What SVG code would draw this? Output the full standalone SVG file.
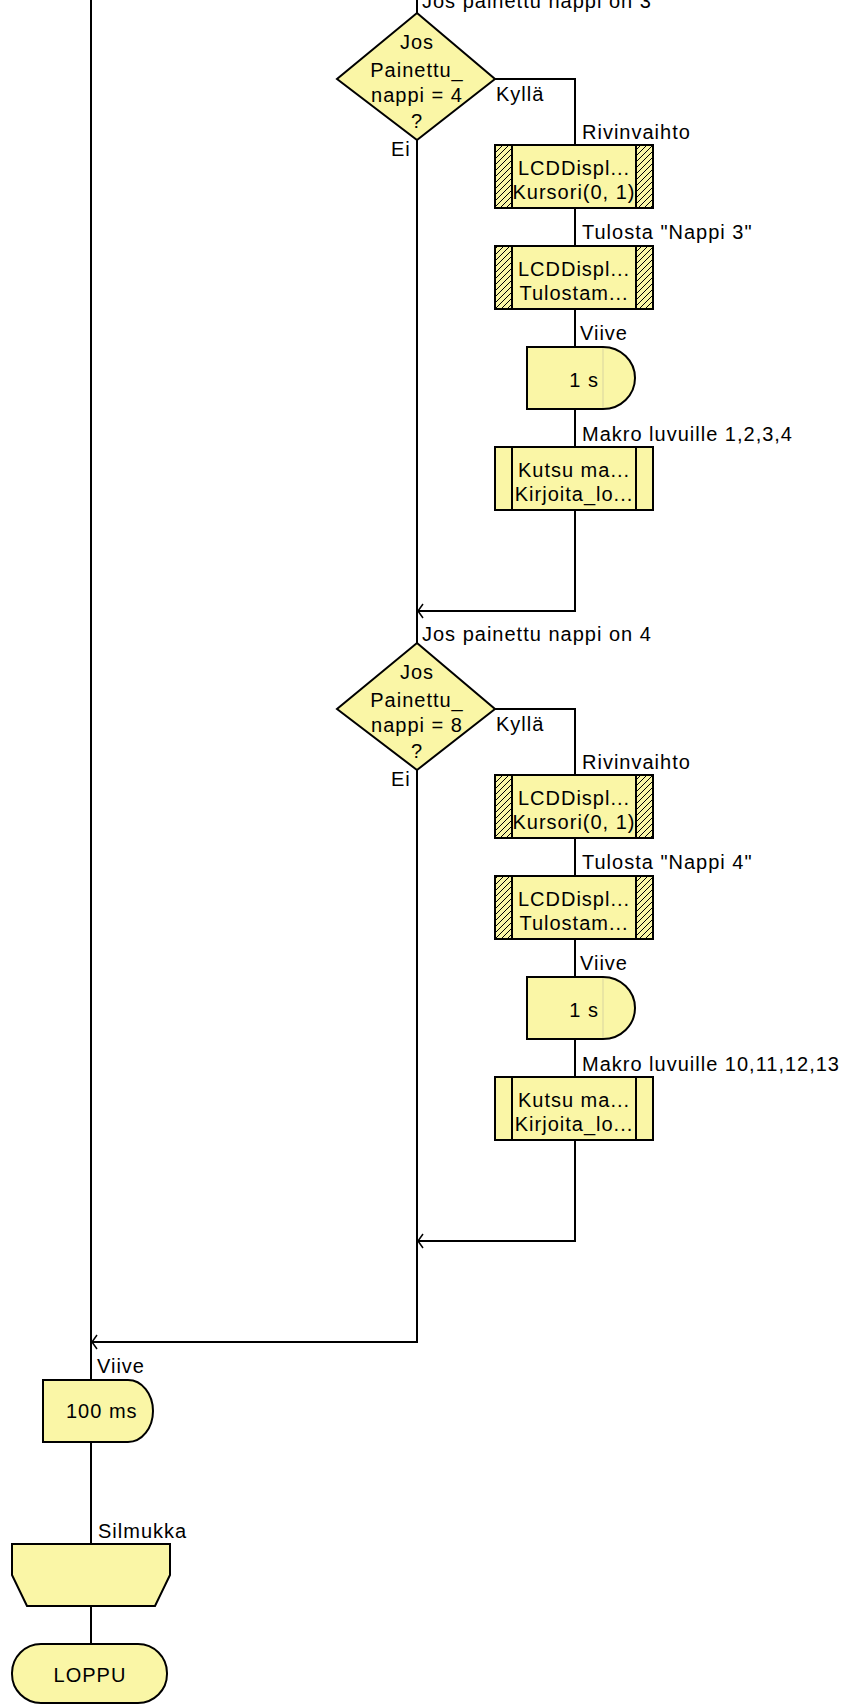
<svg xmlns="http://www.w3.org/2000/svg" width="847" height="1705" viewBox="0 0 847 1705">
<style>
.t{font-family:"Liberation Sans",Arial,sans-serif;font-size:20px;letter-spacing:1px;fill:#000}
.c{text-anchor:middle}
.e{text-anchor:end}
.s{fill:#FAF6A6;stroke:#000;stroke-width:2}
.h{fill:url(#hatch);stroke:#000;stroke-width:2}
.ln{fill:none;stroke:#000;stroke-width:2}
.ar{fill:none;stroke:#000;stroke-width:1.5}
.thin{stroke:#d8d4a0;stroke-width:1}
</style>
<defs>
<pattern id="hatch" patternUnits="userSpaceOnUse" width="6" height="6">
<rect width="6" height="6" fill="#FAF6A6"/>
<path d="M-1,1 L1,-1 M0,6 L6,0 M5,7 L7,5" stroke="#000" stroke-width="1"/>
</pattern>
</defs>
<rect width="847" height="1705" fill="#fff"/>
<g id="connectors">
<path class="ln" d="M91,0 V1380"/>
<path class="ln" d="M417,0 V13"/>
<path class="ln" d="M417,140 V643"/>
<path class="ln" d="M417,770 V1342 H91"/>
<path class="ln" d="M495,79 H575 V145 M575,208 V246 M575,309 V347 M575,409 V447 M575,510 V611 H417"/>
<path class="ln" d="M495,709 H575 V775 M575,838 V876 M575,939 V977 M575,1039 V1077 M575,1140 V1241 H417"/>
<path class="ln" d="M91,1442 V1544 M91,1606 V1644"/>
<path class="ar" d="M423,604 L418,611 L423,618"/>
<path class="ar" d="M423,1234 L418,1241 L423,1248"/>
<path class="ar" d="M97,1335 L92,1342 L97,1349"/>
<text class="t" x="422" y="8">Jos painettu nappi on 3</text>
<text class="t" x="496" y="101">Kyllä</text>
<text class="t" x="391" y="156">Ei</text>
<text class="t" x="582" y="139">Rivinvaihto</text>
<text class="t" x="582" y="239">Tulosta "Nappi 3"</text>
<text class="t" x="580" y="340">Viive</text>
<text class="t" x="582" y="441">Makro luvuille 1,2,3,4</text>
<text class="t" x="422" y="641">Jos painettu nappi on 4</text>
<text class="t" x="496" y="731">Kyllä</text>
<text class="t" x="391" y="786">Ei</text>
<text class="t" x="582" y="769">Rivinvaihto</text>
<text class="t" x="582" y="869">Tulosta "Nappi 4"</text>
<text class="t" x="580" y="970">Viive</text>
<text class="t" x="582" y="1071">Makro luvuille 10,11,12,13</text>
<text class="t" x="97" y="1373">Viive</text>
<text class="t" x="98" y="1538">Silmukka</text>
</g>
<g id="dec1">
<path class="s" d="M417,13 L495,79 L417,140 L337,79 Z"/>
<text class="t c" x="417" y="49">Jos</text>
<text class="t c" x="417" y="77">Painettu_</text>
<text class="t c" x="417" y="102">nappi = 4</text>
<text class="t c" x="417" y="128">?</text>
</g>
<g id="lcd1a">
<rect class="s" x="495" y="145" width="158" height="63"/>
<rect class="h" x="495" y="145" width="17" height="63"/>
<rect class="h" x="636" y="145" width="17" height="63"/>
<text class="t c" x="574" y="175">LCDDispl...</text>
<text class="t c" x="574" y="199">Kursori(0, 1)</text>
</g>
<g id="lcd1b">
<rect class="s" x="495" y="246" width="158" height="63"/>
<rect class="h" x="495" y="246" width="17" height="63"/>
<rect class="h" x="636" y="246" width="17" height="63"/>
<text class="t c" x="574" y="276">LCDDispl...</text>
<text class="t c" x="574" y="300">Tulostam...</text>
</g>
<g id="delay1">
<path class="s" d="M527,347 H603 A32,31 0 0 1 603,409 H527 Z"/>
<line class="thin" x1="603" y1="348" x2="603" y2="408"/>
<text class="t e" x="599" y="387">1 s</text>
</g>
<g id="macro1">
<rect class="s" x="495" y="447" width="158" height="63"/>
<line class="ln" x1="512" y1="447" x2="512" y2="510"/>
<line class="ln" x1="636" y1="447" x2="636" y2="510"/>
<text class="t c" x="574" y="477">Kutsu ma...</text>
<text class="t c" x="574" y="501">Kirjoita_lo...</text>
</g>
<g id="dec2">
<path class="s" d="M417,643 L495,709 L417,770 L337,709 Z"/>
<text class="t c" x="417" y="679">Jos</text>
<text class="t c" x="417" y="707">Painettu_</text>
<text class="t c" x="417" y="732">nappi = 8</text>
<text class="t c" x="417" y="758">?</text>
</g>
<g id="lcd2a">
<rect class="s" x="495" y="775" width="158" height="63"/>
<rect class="h" x="495" y="775" width="17" height="63"/>
<rect class="h" x="636" y="775" width="17" height="63"/>
<text class="t c" x="574" y="805">LCDDispl...</text>
<text class="t c" x="574" y="829">Kursori(0, 1)</text>
</g>
<g id="lcd2b">
<rect class="s" x="495" y="876" width="158" height="63"/>
<rect class="h" x="495" y="876" width="17" height="63"/>
<rect class="h" x="636" y="876" width="17" height="63"/>
<text class="t c" x="574" y="906">LCDDispl...</text>
<text class="t c" x="574" y="930">Tulostam...</text>
</g>
<g id="delay2">
<path class="s" d="M527,977 H603 A32,31 0 0 1 603,1039 H527 Z"/>
<line class="thin" x1="603" y1="978" x2="603" y2="1038"/>
<text class="t e" x="599" y="1017">1 s</text>
</g>
<g id="macro2">
<rect class="s" x="495" y="1077" width="158" height="63"/>
<line class="ln" x1="512" y1="1077" x2="512" y2="1140"/>
<line class="ln" x1="636" y1="1077" x2="636" y2="1140"/>
<text class="t c" x="574" y="1107">Kutsu ma...</text>
<text class="t c" x="574" y="1131">Kirjoita_lo...</text>
</g>
<g id="delay3">
<path class="s" d="M43,1380 H128 A25,31 0 0 1 128,1442 H43 Z"/>
<text class="t" x="66" y="1418">100 ms</text>
</g>
<g id="loop">
<path class="s" d="M12,1544 H170 V1575 L155,1606 H27 L12,1575 Z"/>
</g>
<g id="end">
<rect class="s" x="12" y="1644" width="155" height="59" rx="29" ry="29"/>
<text class="t c" x="90" y="1682">LOPPU</text>
</g>
</svg>
